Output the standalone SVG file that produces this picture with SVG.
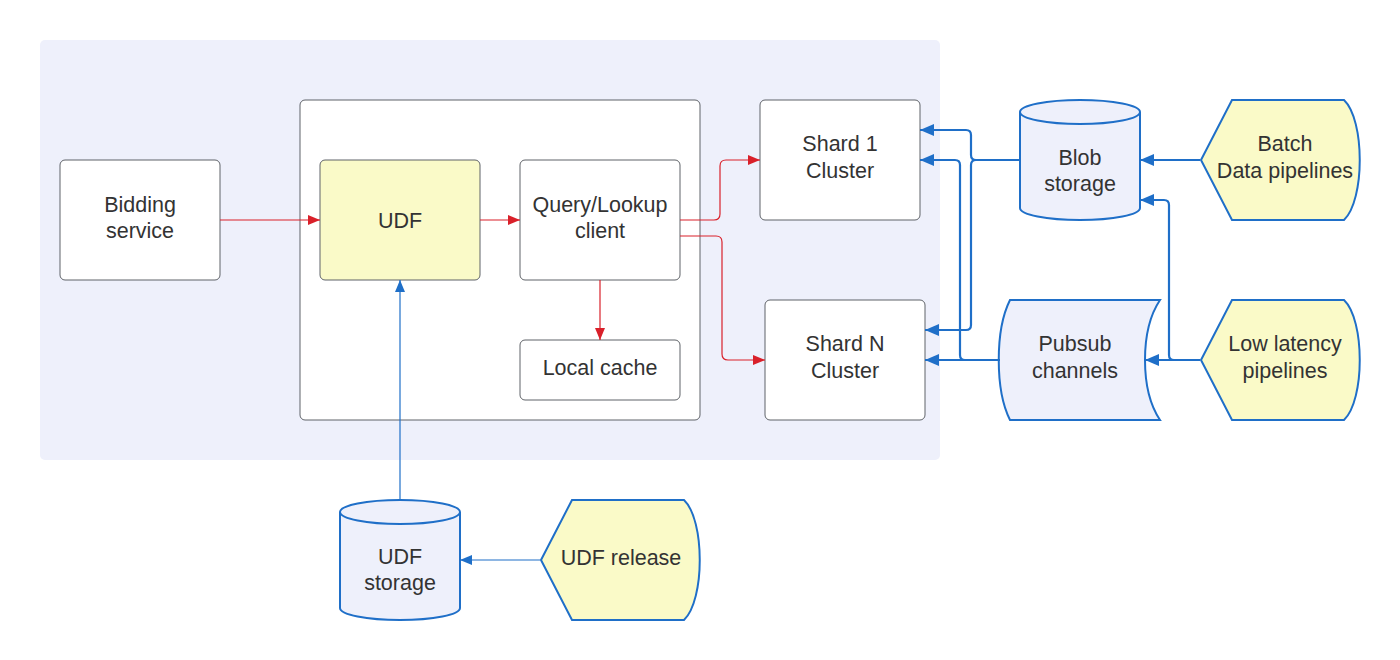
<svg xmlns="http://www.w3.org/2000/svg" width="1400" height="660" viewBox="0 0 1400 660">
<style>
.box{fill:#ffffff;stroke:#5f6368;stroke-width:1}
.yel{fill:#fafac8;stroke:#5f6368;stroke-width:1}
.db{fill:#eef0fb;stroke:#1f6fc8;stroke-width:2}
.disp{fill:#fafac8;stroke:#1f6fc8;stroke-width:2}
.t{font-family:"Liberation Sans",Arial,sans-serif;font-size:21.5px;fill:#333333;text-anchor:middle}
.red{fill:none;stroke:#d9202a;stroke-width:1.2}
.blue1{fill:none;stroke:#1f6fc8;stroke-width:1.2}
.blue2{fill:none;stroke:#1f6fc8;stroke-width:2.2}
</style>
<defs>
<marker id="ar" viewBox="0 0 12 10" refX="12" refY="5" markerWidth="12" markerHeight="10" markerUnits="userSpaceOnUse" orient="auto"><path d="M0,0 L12,5 L0,10 Z" fill="#d9202a"/></marker>
<marker id="ab1" viewBox="0 0 12 10" refX="12" refY="5" markerWidth="12" markerHeight="10" markerUnits="userSpaceOnUse" orient="auto"><path d="M0,0 L12,5 L0,10 Z" fill="#1f6fc8"/></marker>
<marker id="ab2" viewBox="0 0 14 12" refX="14" refY="6" markerWidth="14" markerHeight="12" markerUnits="userSpaceOnUse" orient="auto"><path d="M0,0 L14,6 L0,12 Z" fill="#1f6fc8"/></marker>
</defs>
<rect width="1400" height="660" fill="#ffffff"/>
<g id="region"><rect x="40" y="40" width="900" height="420" rx="5" fill="#eef0fb"/></g>
<g id="container"><rect class="box" x="300" y="100" width="400" height="320" rx="5"/></g>
<g id="bidding"><rect class="box" x="60" y="160" width="160" height="120" rx="5"/><text class="t" x="140" y="212">Bidding</text><text class="t" x="140" y="238">service</text></g>
<g id="udf"><rect class="yel" x="320" y="160" width="160" height="120" rx="5"/><text class="t" x="400" y="228">UDF</text></g>
<g id="query"><rect class="box" x="520" y="160" width="160" height="120" rx="5"/><text class="t" x="600" y="212">Query/Lookup</text><text class="t" x="600" y="238">client</text></g>
<g id="cache"><rect class="box" x="520" y="340" width="160" height="60" rx="5"/><text class="t" x="600" y="375">Local cache</text></g>
<g id="shard1"><rect class="box" x="760" y="100" width="160" height="120" rx="5"/><text class="t" x="840" y="151">Shard 1</text><text class="t" x="840" y="178">Cluster</text></g>
<g id="shardn"><rect class="box" x="765" y="300" width="160" height="120" rx="5"/><text class="t" x="845" y="351">Shard N</text><text class="t" x="845" y="378">Cluster</text></g>
<g id="blob"><path class="db" d="M1020,112 A60,12 0 0 1 1140,112 V208 A60,12 0 0 1 1020,208 Z"/><path class="db" d="M1020,112 A60,12 0 0 0 1140,112"/><text class="t" x="1080" y="165">Blob</text><text class="t" x="1080" y="191">storage</text></g>
<g id="batch"><path class="disp" d="M1232,100 H1344 C1365,120 1365,200 1344,220 H1232 L1201,160 Z"/><text class="t" x="1285" y="151">Batch</text><text class="t" x="1285" y="178">Data pipelines</text></g>
<g id="pubsub"><path class="db" d="M1010,300 H1160 C1140,330 1140,390 1160,420 H1010 C995,390 995,330 1010,300 Z"/><text class="t" x="1075" y="351">Pubsub</text><text class="t" x="1075" y="378">channels</text></g>
<g id="lowlat"><path class="disp" d="M1232,300 H1344 C1365,320 1365,400 1344,420 H1232 L1201,360 Z"/><text class="t" x="1285" y="351">Low latency</text><text class="t" x="1285" y="378">pipelines</text></g>
<g id="udfstorage"><path class="db" d="M340,512 A60,12 0 0 1 460,512 V608 A60,12 0 0 1 340,608 Z"/><path class="db" d="M340,512 A60,12 0 0 0 460,512"/><text class="t" x="400" y="564">UDF</text><text class="t" x="400" y="590">storage</text></g>
<g id="udfrelease"><path class="disp" d="M572,500 H684 C705,520 705,600 684,620 H572 L541,560 Z"/><text class="t" x="621" y="565">UDF release</text></g>
<g id="connectors">
<path class="red" d="M220,220 H320" marker-end="url(#ar)"/>
<path class="red" d="M480,220 H520" marker-end="url(#ar)"/>
<path class="red" d="M680,220 H714 Q720,220 720,214 V166 Q720,160 726,160 H760" marker-end="url(#ar)"/>
<path class="red" d="M680,236 H716 Q722,236 722,242 V354 Q722,360 728,360 H765" marker-end="url(#ar)"/>
<path class="red" d="M600,280 V340" marker-end="url(#ar)"/>
<path class="blue1" d="M400,500 V280" marker-end="url(#ab1)"/>
<path class="blue1" d="M540,560 H460" marker-end="url(#ab1)"/>
<path class="blue2" d="M1200,160 H1140" marker-end="url(#ab2)"/>
<path class="blue2" d="M1200,360 H1145" marker-end="url(#ab2)"/>
<path class="blue2" d="M1200,360 H1174 Q1169,360 1169,355 V205 Q1169,200 1164,200 H1140" marker-end="url(#ab2)"/>
<path class="blue2" d="M1020,160 H976 Q971,160 971,155 V135 Q971,130 966,130 H920" marker-end="url(#ab2)"/>
<path class="blue2" d="M1020,160 H976 Q971,160 971,165 V325 Q971,330 966,330 H925" marker-end="url(#ab2)"/>
<path class="blue2" d="M1000,360 H965 Q960,360 960,355 V165 Q960,160 955,160 H920" marker-end="url(#ab2)"/>
<path class="blue2" d="M1000,360 H925" marker-end="url(#ab2)"/>
</g>
</svg>
